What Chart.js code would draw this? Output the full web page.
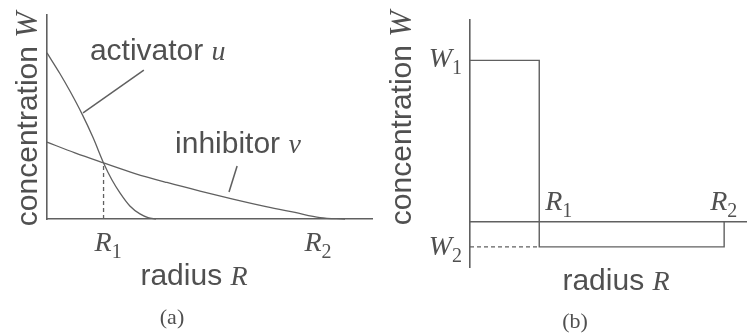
<!DOCTYPE html>
<html>
<head>
<meta charset="utf-8">
<script src="https://cdn.jsdelivr.net/npm/chart.js@4.4.1/dist/chart.umd.min.js"></script>
<style>
  html, body { margin: 0; padding: 0; background: #ffffff; }
  #wrap { position: relative; width: 747px; height: 335px; overflow: hidden; background: #ffffff; }
  canvas { position: absolute; top: 0; }
  #chartA { left: 0; }
  #chartB { left: 374px; }
</style>
</head>
<body>
<div id="wrap">
  <canvas id="chartA" width="374" height="335"></canvas>
  <canvas id="chartB" width="373" height="335"></canvas>
</div>
<script>
// ---- (a) activator / inhibitor concentration profiles ----
const activatorR = [0, 0.40, 0.71, 1.08, 1.42, 1.74, 2.00, 2.25, 2.55, 2.86, 3.11, 3.35];
const activatorU = [8.14, 7.12, 6.26, 5.14, 3.98, 2.75, 1.91, 1.27, 0.64, 0.25, 0.07, 0];
const inhibitorR = [0, 0.86, 1.74, 2.71, 3.69, 4.71, 5.72, 6.74, 7.63, 8.40, 9.17];
const inhibitorV = [3.77, 3.24, 2.75, 2.23, 1.79, 1.37, 0.98, 0.61, 0.32, 0.07, 0];
const crossR = 1.74;          // R1: where u and v cross
const crossW = 2.75;
const edgeR = 8.2;            // R2
const activatorPointerR = [2.98, 1.11];
const activatorPointerW = [7.30, 5.20];
const inhibitorPointerR = [5.85, 5.60];
const inhibitorPointerW = [2.60, 1.32];
const activatorTagAt = [1.32, 7.80];
const inhibitorTagAt = [3.94, 3.23];

// ---- (b) step approximation of the kernel ----
const stepR = [0, 1, 1, 3.67, 3.67];
const stepW = [8, 8, -1.25, -1.25, 0];
const W1 = 8, W2 = -1.25;
const R1 = 1, R2 = 3.67;

const SANS = '"Liberation Sans", Arial, Helvetica, sans-serif';
const SERIF = '"Liberation Serif", "Times New Roman", Times, serif';
const INK = '#505050';
const LINE = '#606060';

function pts(xs, ys) { return xs.map((x, i) => ({ x: x, y: ys[i] })); }

// mixed-font text runs (sans words + italic serif symbols + subscripts)
function drawRuns(ctx, parts, x, y, align, rotate) {
  ctx.save();
  ctx.fillStyle = INK;
  ctx.textBaseline = 'alphabetic';
  ctx.textAlign = 'left';
  let total = 0;
  const widths = parts.map(p => { ctx.font = p.f; const w = ctx.measureText(p.t).width; total += w; return w; });
  ctx.translate(x, y);
  if (rotate) ctx.rotate(-Math.PI / 2);
  let cx = align === 'center' ? -total / 2 : (align === 'right' ? -total : 0);
  parts.forEach((p, i) => { ctx.font = p.f; ctx.fillText(p.t, cx, p.dy || 0); cx += widths[i]; });
  ctx.restore();
}

const word = s => ({ t: s, f: '30px ' + SANS });
const sym = s => ({ t: s, f: 'italic 28px ' + SERIF });
const sub = s => ({ t: s, f: '20px ' + SERIF, dy: 7 });
const yTitle = [{ t: 'concentration ', f: '30px ' + SANS }, { t: 'W', f: 'italic 31px ' + SERIF }];
const xTitle = [word('radius '), sym('R')];

function lineSet(data, extra) {
  return Object.assign({
    data: data, showLine: true, borderColor: LINE, borderWidth: 1.3,
    pointRadius: 0, fill: false, clip: false
  }, extra || {});
}

function axisOpts(min, max, extra) {
  return Object.assign({
    type: 'linear', min: min, max: max,
    grid: { display: false, drawTicks: false },
    ticks: { display: false },
    border: { display: true, color: LINE, width: 1.6 }
  }, extra || {});
}

const baseOpts = {
  responsive: false, animation: false, events: [],
  plugins: { legend: { display: false }, tooltip: { enabled: false } }
};

// ---------- chart (a) ----------
const labelsA = {
  id: 'labelsA',
  afterDraw(chart) {
    const { ctx, scales: { x, y } } = chart;
    drawRuns(ctx, [word('activator '), sym('u')],
      x.getPixelForValue(activatorTagAt[0]), y.getPixelForValue(activatorTagAt[1]), 'left');
    drawRuns(ctx, [word('inhibitor '), sym('v')],
      x.getPixelForValue(inhibitorTagAt[0]), y.getPixelForValue(inhibitorTagAt[1]), 'left');
    const axisY = y.getPixelForValue(0);
    drawRuns(ctx, [sym('R'), sub('1')], x.getPixelForValue(crossR) - 9, axisY + 32, 'left');
    drawRuns(ctx, [sym('R'), sub('2')], x.getPixelForValue(edgeR) - 9, axisY + 32, 'left');
    drawRuns(ctx, xTitle, 194, 285, 'center');
    drawRuns(ctx, [{ t: '(a)', f: '22px ' + SERIF }], 172, 324, 'center');
    drawRuns(ctx, yTitle, 37, 119, 'center', true);
  }
};

new Chart(document.getElementById('chartA'), {
  type: 'scatter',
  data: {
    datasets: [
      lineSet(pts(activatorR, activatorU), { cubicInterpolationMode: 'monotone' }),
      lineSet(pts(inhibitorR, inhibitorV), { cubicInterpolationMode: 'monotone' }),
      lineSet(pts([crossR, crossR], [0, crossW]), { borderDash: [4, 3] }),
      lineSet(pts(activatorPointerR, activatorPointerW), { borderWidth: 1.5 }),
      lineSet(pts(inhibitorPointerR, inhibitorPointerW), { borderWidth: 1.5 })
    ]
  },
  options: Object.assign({}, baseOpts, {
    layout: { padding: { left: 47, top: 15, right: 2, bottom: 116 } },
    scales: { x: axisOpts(0, 10), y: axisOpts(0, 10) }
  }),
  plugins: [labelsA]
});

// ---------- chart (b) ----------
const labelsB = {
  id: 'labelsB',
  afterDraw(chart) {
    const { ctx, scales: { x, y } } = chart;
    const axisX = x.getPixelForValue(0);
    const axisY = y.getPixelForValue(0);
    drawRuns(ctx, [sym('W'), sub('1')], axisX - 8, y.getPixelForValue(W1) + 7, 'right');
    drawRuns(ctx, [sym('W'), sub('2')], axisX - 8, y.getPixelForValue(W2) + 8, 'right');
    drawRuns(ctx, [sym('R'), sub('1')], x.getPixelForValue(R1) + 6, axisY - 12, 'left');
    drawRuns(ctx, [sym('R'), sub('2')], x.getPixelForValue(R2) - 14, axisY - 12, 'left');
    drawRuns(ctx, xTitle, 242, 290, 'center');
    drawRuns(ctx, [{ t: '(b)', f: '22px ' + SERIF }], 201, 328, 'center');
    drawRuns(ctx, yTitle, 37, 118, 'center', true);
  }
};

new Chart(document.getElementById('chartB'), {
  type: 'scatter',
  data: {
    datasets: [
      lineSet(pts(stepR, stepW), { borderWidth: 1.4 }),
      lineSet(pts([0, R1], [W2, W2]), { borderDash: [4, 3] })
    ]
  },
  options: Object.assign({}, baseOpts, {
    layout: { padding: { left: 96, top: 20, right: 0, bottom: 68 } },
    scales: {
      x: axisOpts(0, 4, { position: { y: 0 } }),
      y: axisOpts(-2.25, 10)
    }
  }),
  plugins: [labelsB]
});
</script>
</body>
</html>
